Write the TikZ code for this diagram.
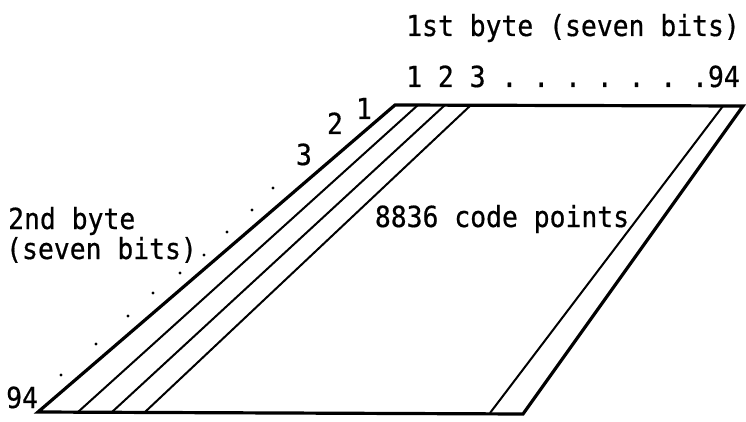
\documentclass[tikz,border=0pt]{standalone}
\usepackage{fontspec}
\newfontfamily\monofam[FakeStretch=0.91,FakeBold=0.6]{DejaVu Sans Mono}
\begin{document}
\begin{tikzpicture}[x=1pt,y=-1pt,
  lbl/.style={font=\monofam\fontsize{29}{32}\selectfont\frenchspacing, inner sep=0pt},
  outer/.style={line width=3.2pt, line join=miter},
  inner/.style={line width=2pt},
  dotmark/.style={fill=black, draw=none}]
\useasboundingbox (0,0) rectangle (746,422);
% corners of the code table
\coordinate (tl) at (395,105);
\coordinate (tr) at (743,106);
\coordinate (br) at (523,414);
\coordinate (bl) at (38,412);
% column lines
\coordinate (a1) at (418,105); \coordinate (b1) at (78,412);
\coordinate (a2) at (445,105); \coordinate (b2) at (112,412);
\coordinate (a3) at (471,105); \coordinate (b3) at (145,412);
\coordinate (a4) at (723,106); \coordinate (b4) at (490,413);
\draw[inner] (a1) -- (b1);
\draw[inner] (a2) -- (b2);
\draw[inner] (a3) -- (b3);
\draw[inner] (a4) -- (b4);
\draw[outer] (tl) -- (tr) -- (br) -- (bl) -- cycle;
% texts
\node[lbl, anchor=base] (t1) at (573,36) {1st byte (seven bits)};
\node[lbl, anchor=base] (t2) at (573,87) {1 2 3 . . . . . . .94};
\node[lbl, anchor=base] (t3) at (502,227) {8836 code points};
\node[lbl, anchor=base west] (t4) at (8,229) {2nd byte};
\node[lbl, anchor=base west] (t5) at (6,259) {(seven bits)};
\node[lbl, anchor=base west] (t6) at (6,408) {94};
\node[lbl, anchor=base] (r1) at (364,119) {1};
\node[lbl, anchor=base] (r2) at (335,134) {2};
\node[lbl, anchor=base] (r3) at (304,165) {3};
% dots along the second byte axis
\foreach \p in {(273,188),(252,210),(227,232),(204,255),(180,273),(153,293),(128,316),(96,344),(61,375)}
  \fill[dotmark] \p circle (1.6pt);
\end{tikzpicture}
\end{document}
